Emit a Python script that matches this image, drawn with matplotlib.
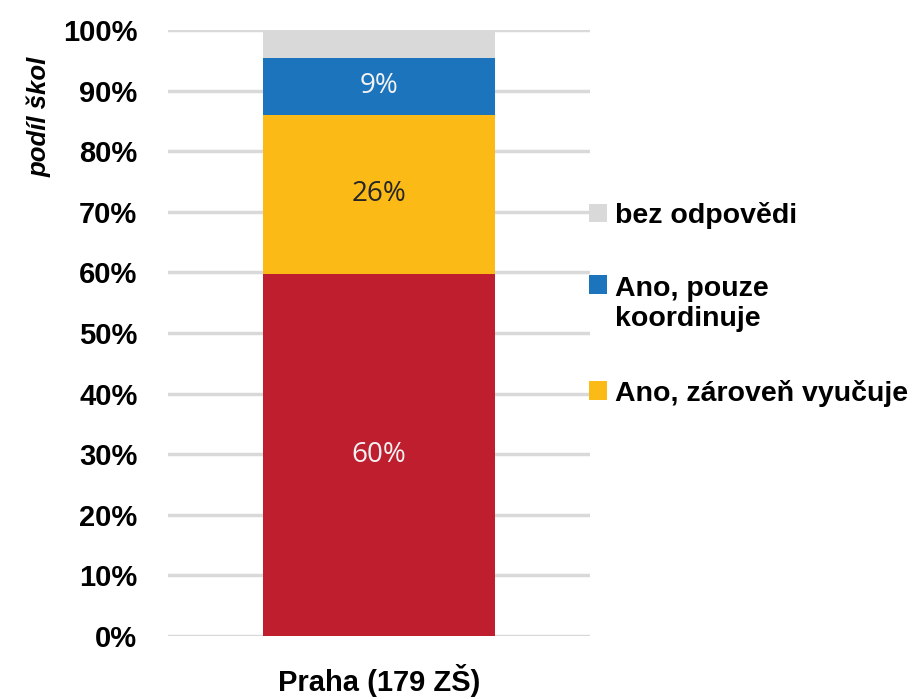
import matplotlib
matplotlib.use("Agg")
import matplotlib.pyplot as plt
from matplotlib.patches import Patch, Rectangle
from matplotlib.legend_handler import HandlerPatch
from matplotlib.ticker import PercentFormatter

# -- Daten --
category = "Praha (179 ZŠ)"
series_names = ["Ne", "Ano, zároveň vyučuje", "Ano, pouze koordinuje", "bez odpovědi"]
series_values = [59.8, 26.2, 9.4, 4.6]
series_colors = ["#BE1E2D", "#FBBA16", "#1C75BC", "#D9D9D9"]
label_colors = ["#F2F2F2", "#262626", "#F2F2F2", None]
legend_names = ["bez odpovědi", "Ano, pouze\nkoordinuje", "Ano, zároveň vyučuje"]
legend_colors = ["#D9D9D9", "#1C75BC", "#FBBA16"]
y_ticks = list(range(0, 101, 10))

plt.rcParams['font.family'] = ['Liberation Sans', 'DejaVu Sans']

fig = plt.figure(figsize=(9.2, 6.99), dpi=100)
ax = fig.add_axes([168 / 920, 63 / 699, (590 - 168) / 920, (636 - 30) / 699])

bottom = 0
for val, col, lcol in zip(series_values, series_colors, label_colors):
    ax.bar([0], [val], bottom=bottom, width=0.55, color=col, zorder=2)
    if lcol is not None:
        ax.text(0, bottom + val / 2, f"{round(val):.0f}%", ha="center", va="center",
                color=lcol, fontsize=20, family=["Open Sans", "DejaVu Sans"], zorder=3)
    bottom += val

ax.set_xlim(-0.5, 0.5)
ax.set_ylim(0, 100)
ax.set_yticks(y_ticks)
ax.yaxis.set_major_formatter(PercentFormatter(decimals=0))
ax.set_xticks([0])
ax.set_xticklabels([category])
ax.tick_params(axis="both", length=0, labelsize=21)
ax.tick_params(axis="x", pad=20)
ax.tick_params(axis="y", pad=22)
for lab in ax.get_xticklabels() + ax.get_yticklabels():
    lab.set_fontweight("bold")
ax.grid(axis="y", color="#D9D9D9", linewidth=2.5, zorder=0)
for sp in ax.spines.values():
    sp.set_visible(False)

ax.set_ylabel("podíl škol", fontsize=18.5, fontweight="bold", fontstyle="italic")
ax.yaxis.set_label_coords(-0.275, 0.856)


# Marker nach oben schieben (erste Zeile bei mehrzeiligem Text)
def top_patch(legend, orig_handle, xdescent, ydescent, width, height, fontsize):
    shift = 14 if "\n" in str(orig_handle.get_label()) else 0
    return Rectangle((-xdescent, -ydescent + shift), width, height)


handles = [Patch(facecolor=c, label=n) for c, n in zip(legend_colors, legend_names)]
leg = fig.legend(handles, legend_names, loc="upper left", bbox_to_anchor=(589 / 920, 1 - 202 / 699),
                 frameon=False, prop={"size": 20.5, "weight": "bold"}, handlelength=0.63,
                 handleheight=0.63, handletextpad=0.3, labelspacing=1.66, borderpad=0,
                 borderaxespad=0, handler_map={Patch: HandlerPatch(patch_func=top_patch)})

fig.savefig("out.png", dpi=100)
